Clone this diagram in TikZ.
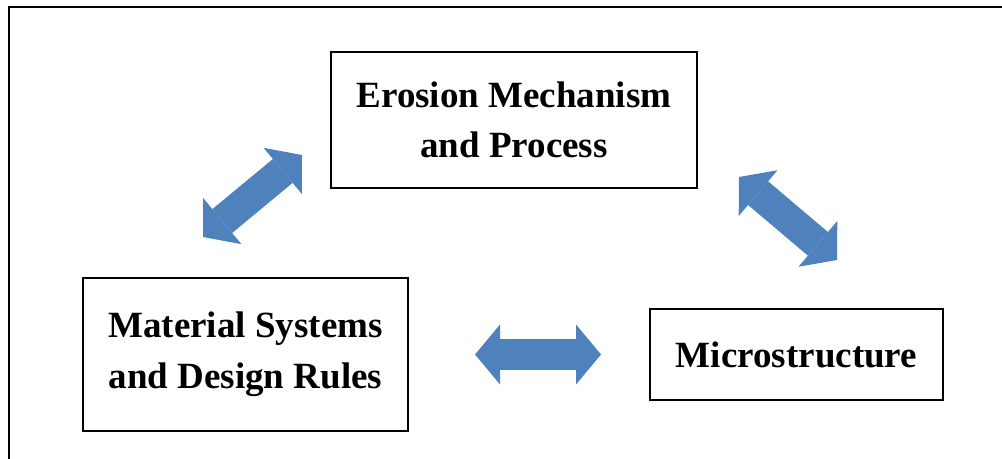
\documentclass[tikz,border=0pt]{standalone}
\usepackage{fontspec}
\setmainfont{Liberation Serif}
\usetikzlibrary{arrows.meta,positioning}
\definecolor{arrowblue}{RGB}{79,129,189}

\begin{document}
\begin{tikzpicture}[x=0.75pt, y=-0.75pt, font=\fontsize{27.75}{38}\selectfont\bfseries, node distance=180pt]
\tikzstyle{box}=[rectangle, draw, line width=1.5pt, align=center, fill=white, inner sep=0pt]
\tikzstyle{dblarrow}=[arrowblue, line width=23.25pt, {Triangle[length=18.75pt, width=45pt, line width=0pt]}-{Triangle[length=18.75pt, width=45pt, line width=0pt]}]
\useasboundingbox (0,0) rectangle (1002,459);
\draw[line width=1.5pt] (9,470) -- (9,7) -- (1010,7);
\node[box, minimum width=274.5pt, minimum height=102pt] (erosion) at (514,120) {Erosion Mechanism\\and Process};
\node[box, minimum width=243.75pt, minimum height=114.75pt] (mat) at (245.5,354.5) {Material Systems\\and Design Rules};
\node[box, right=of mat, minimum width=219.75pt, minimum height=68.25pt] (micro) {Microstructure};
% free ends of the diagonal arrows
\coordinate (la) at (203,237);
\coordinate (lb) at (302,155);
\coordinate (ra) at (739,177);
\coordinate (rb) at (837,260);
\draw[dblarrow] (la) -- (lb);
\draw[dblarrow] (ra) -- (rb);
\draw[dblarrow, shorten <=49.5pt, shorten >=36pt] (mat.east) -- (mat.east -| micro.west);
\end{tikzpicture}
\end{document}
